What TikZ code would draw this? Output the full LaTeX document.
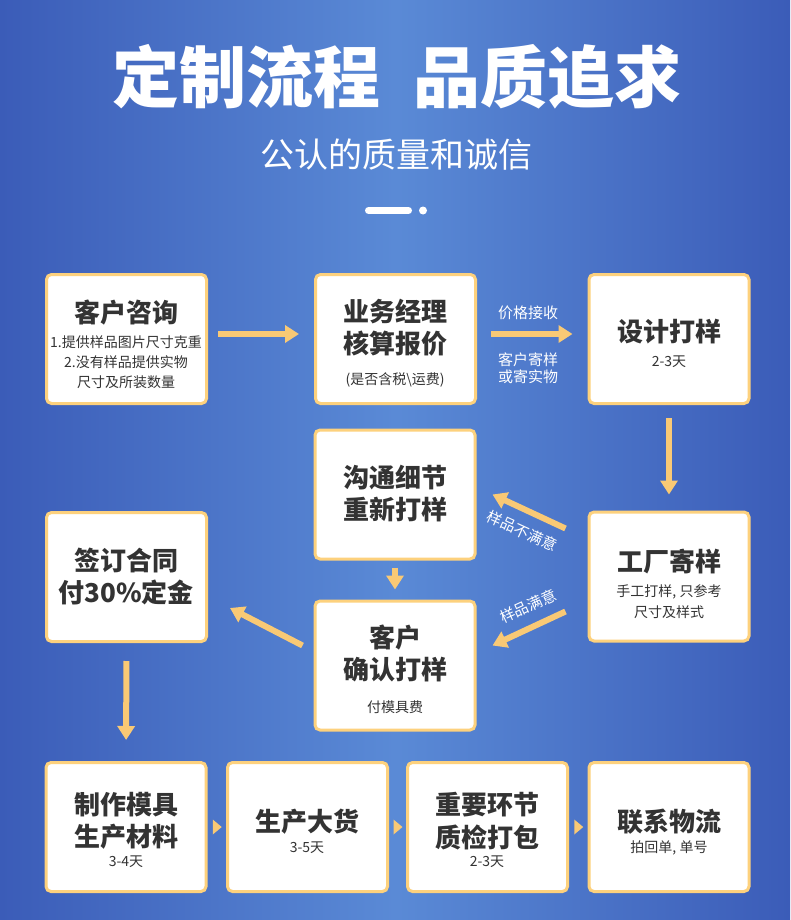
\documentclass[tikz,border=0pt]{standalone}
\usepackage{fontspec}
\setmainfont{Noto Sans CJK SC}
\usetikzlibrary{arrows.meta, positioning, calc}
\definecolor{bgdark}{HTML}{3B5CB8}
\definecolor{bglight}{HTML}{5A8AD6}
\definecolor{rim}{HTML}{FDD17D}
\definecolor{arrc}{HTML}{F9C975}
\definecolor{ink}{HTML}{333333}

\begin{document}
\begin{tikzpicture}[x=1pt, y=-1pt,
  stage/.style={draw=rim, line width=3pt, fill=white, rounded corners=5pt, minimum width=160pt, minimum height=129pt, inner sep=0pt},
  head/.style={font=\bfseries\fontsize{26}{30}\selectfont, text=ink, inner sep=0pt},
  note/.style={font=\fontsize{14}{16}\selectfont, text=ink, inner sep=0pt},
  tag/.style={font=\fontsize{15}{17}\selectfont, text=white, inner sep=0pt},
  flow/.style={draw=arrc, line width=6pt, -{Triangle[length=14pt, width=17pt]}}]
\shade[left color=bgdark, right color=bgdark, middle color=bglight] (0,0) rectangle (790,920);
\node[text=white, font=\bfseries\fontsize{67}{72}\selectfont, inner sep=0pt] (title) at (397,77) {定制流程\hspace{0.5em}品质追求};
\node[text=white, font=\fontsize{34}{38}\selectfont, inner sep=0pt] (subtitle) at (396,155) {公认的质量和诚信};
\draw[white, line width=7pt, line cap=round] (368.5,210.5) -- (408.5,210.5);
\fill[white] (423,210.5) circle (4);

\node[stage] (consult) at (126.5,339) {};
\node[stage] (quote) at (395.5,339) {};
\node[stage] (design) at (669,339) {};
\node[stage] (rework) at (395,494.5) {};
\node[stage] (factory) at (669,576.5) {};
\node[stage] (confirm) at (395,665.5) {};
\node[stage] (contract) at (126.5,577) {};
\node[stage] (mould) at (126,827) {};
\node[stage] (mass) at (307.5,827) {};
\node[stage] (qc) at (487.5,827) {};
\node[stage] (ship) at (669,827) {};

\node[head] (consult-a) at (126,313) {客户咨询};
\node[note] (consult-b) at (126,342) {1.提供样品图片尺寸克重};
\node[note] (consult-c) at (126,362) {2.没有样品提供实物};
\node[note] (consult-d) at (126,382) {尺寸及所装数量};
\node[head] (quote-a) at (395,312) {业务经理};
\node[head] (quote-b) at (395,344) {核算报价};
\node[note] (quote-c) at (395,380) {(是否含税\textbackslash 运费)};
\node[head] (design-a) at (669,332) {设计打样};
\node[note] (design-b) at (669,362) {2-3天};
\node[head] (rework-a) at (395,478) {沟通细节};
\node[head] (rework-b) at (395,510) {重新打样};
\node[head] (factory-a) at (669,562) {工厂寄样};
\node[note] (factory-b) at (669,592) {手工打样, 只参考};
\node[note] (factory-c) at (669,612) {尺寸及样式};
\node[head] (confirm-a) at (395,638) {客户};
\node[head] (confirm-b) at (395,670) {确认打样};
\node[note] (confirm-c) at (395,707) {付模具费};
\node[head] (contract-a) at (126,560) {签订合同};
\node[head] (contract-b) at (126,592) {付30\%定金};
\node[head] (mould-a) at (126,805) {制作模具};
\node[head] (mould-b) at (126,837) {生产材料};
\node[note] (mould-c) at (126,862) {3-4天};
\node[head] (mass-a) at (307,822) {生产大货};
\node[note] (mass-b) at (307,848) {3-5天};
\node[head] (qc-a) at (487,805) {重要环节};
\node[head] (qc-b) at (487,837) {质检打包};
\node[note] (qc-c) at (487,862) {2-3天};
\node[head] (ship-a) at (669,822) {联系物流};
\node[note] (ship-b) at (669,848) {拍回单, 单号};

\draw[flow, shorten <=10pt, shorten >=15pt] ([yshift=5pt]consult.east) -- ([yshift=5pt]quote.west);
\draw[flow, shorten <=14pt, shorten >=15pt] ([yshift=5pt]quote.east) -- ([yshift=5pt]design.west);
\node[tag] (accept) at (528,313) {价格接收};
\node[tag] (send-a) at (528,360) {客户寄样};
\node[tag] (send-b) at (528,377) {或寄实物};
\draw[flow, shorten <=13pt, shorten >=16pt] (design.south) -- (factory.north);
\draw[flow] ([xshift=-22pt,yshift=48pt]factory.west) -- ([xshift=16pt]rework.east);
\node[tag, rotate=-24.6] (notok) at (522,531) {样品不满意};
\draw[flow] ([xshift=-22pt,yshift=-35pt]factory.west) -- ([xshift=16pt,yshift=20pt]confirm.east);
\node[tag, rotate=24.6] (ok) at (528,606) {样品满意};
\draw[flow, shorten <=7pt, shorten >=10pt] (rework.south) -- (confirm.north);
\draw[flow] ([xshift=-11pt,yshift=20pt]confirm.west) -- ([xshift=22pt,yshift=-31pt]contract.east);
\draw[flow, shorten <=18pt, shorten >=21pt] (contract.south) -- (mould.north);
\foreach \a/\b in {mould/mass, mass/qc, qc/ship}
  \fill[arrc] ($(\a.east)!.5!(\b.west)$) ++(-4,-7.5) -- ++(9,7.5) -- ++(-9,7.5) -- cycle;
\end{tikzpicture}
\end{document}
